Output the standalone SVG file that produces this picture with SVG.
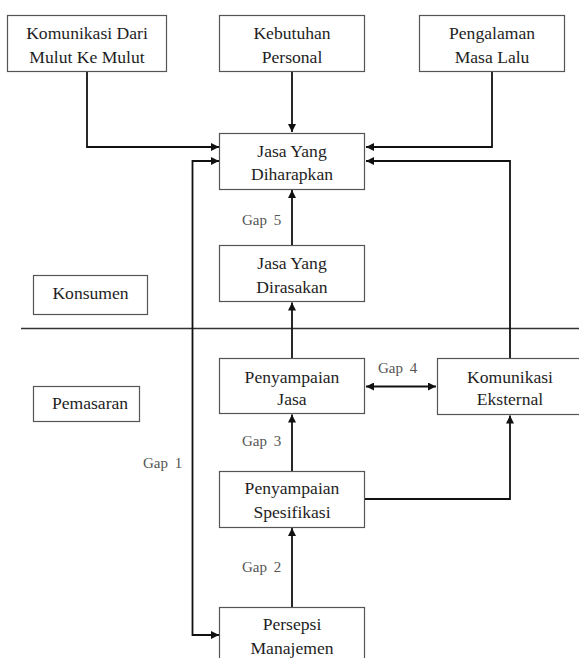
<svg xmlns="http://www.w3.org/2000/svg" width="579" height="658" viewBox="0 0 579 658">
<style>
.box{fill:#fff;stroke:#555;stroke-width:1.2}
.t{font-family:'Liberation Serif','DejaVu Serif',serif;font-size:17.6px;fill:#1e1e1e;text-anchor:middle}
.g{font-family:'Liberation Serif','DejaVu Serif',serif;font-size:15px;fill:#555;word-spacing:3px}
.c{fill:none;stroke:#111;stroke-width:1.8}
</style>
<defs>
<marker id="ah" viewBox="0 0 10 10" refX="10" refY="5" markerWidth="10" markerHeight="8" markerUnits="userSpaceOnUse" orient="auto-start-reverse">
<path d="M0,0 L10,5 L0,10 Z" fill="#111"/>
</marker>
</defs>
<rect width="579" height="658" fill="#fff"/>
<line x1="21" y1="328.5" x2="579" y2="328.5" stroke="#333" stroke-width="1.4"/>
<g id="connectors">
<path class="c" d="M87,72 V147 H219" marker-end="url(#ah)"/>
<path class="c" d="M292,72 V132" marker-end="url(#ah)"/>
<path class="c" d="M492,72 V147 H366" marker-end="url(#ah)"/>
<path class="c" d="M219,635 H192.5 V161 H219" marker-start="url(#ah)" marker-end="url(#ah)"/>
<path class="c" d="M510,358 V161 H366" marker-end="url(#ah)"/>
<path class="c" d="M292,245 V190" marker-end="url(#ah)"/>
<path class="c" d="M292,358 V302.5" marker-end="url(#ah)"/>
<path class="c" d="M366,386.5 H436" marker-start="url(#ah)" marker-end="url(#ah)"/>
<path class="c" d="M292,471 V414.5" marker-end="url(#ah)"/>
<path class="c" d="M365,499 H510 V415.5" marker-end="url(#ah)"/>
<path class="c" d="M292,607 V528" marker-end="url(#ah)"/>
</g>
<g id="n-wom"><rect class="box" x="7.5" y="15.5" width="159" height="56"/><text class="t" x="87" y="39">Komunikasi Dari</text><text class="t" x="87" y="63">Mulut Ke Mulut</text></g>
<g id="n-kebutuhan"><rect class="box" x="219.5" y="15.5" width="145" height="56"/><text class="t" x="292" y="39">Kebutuhan</text><text class="t" x="292" y="63">Personal</text></g>
<g id="n-pengalaman"><rect class="box" x="419.5" y="15.5" width="145" height="56"/><text class="t" x="492" y="39">Pengalaman</text><text class="t" x="492" y="63">Masa Lalu</text></g>
<g id="n-diharapkan"><rect class="box" x="219.5" y="133.5" width="145" height="56"/><text class="t" x="292" y="157">Jasa Yang</text><text class="t" x="292" y="180">Diharapkan</text></g>
<g id="n-dirasakan"><rect class="box" x="219.5" y="245.5" width="145" height="56"/><text class="t" x="292" y="269">Jasa Yang</text><text class="t" x="292" y="293">Dirasakan</text></g>
<g id="n-konsumen"><rect class="box" x="33.5" y="275.5" width="114" height="39"/><text class="t" x="90.5" y="299">Konsumen</text></g>
<g id="n-penyampaian-jasa"><rect class="box" x="219.5" y="358.5" width="145" height="55"/><text class="t" x="292" y="382.5">Penyampaian</text><text class="t" x="292" y="405">Jasa</text></g>
<g id="n-komunikasi-eksternal"><rect class="box" x="437.5" y="358.5" width="146" height="56"/><text class="t" x="510" y="382.5">Komunikasi</text><text class="t" x="510" y="405">Eksternal</text></g>
<g id="n-pemasaran"><rect class="box" x="33.5" y="386.5" width="106" height="35"/><text class="t" x="90" y="409">Pemasaran</text></g>
<g id="n-spesifikasi"><rect class="box" x="219.5" y="471.5" width="145" height="56"/><text class="t" x="292" y="494">Penyampaian</text><text class="t" x="292" y="517.5">Spesifikasi</text></g>
<g id="n-persepsi"><rect class="box" x="219.5" y="607.5" width="145" height="60"/><text class="t" x="292" y="630">Persepsi</text><text class="t" x="292" y="654">Manajemen</text></g>
<g id="labels">
<text class="g" x="242" y="225">Gap 5</text>
<text class="g" x="378" y="373">Gap 4</text>
<text class="g" x="242" y="446">Gap 3</text>
<text class="g" x="143" y="468">Gap 1</text>
<text class="g" x="242" y="572">Gap 2</text>
</g>
</svg>
